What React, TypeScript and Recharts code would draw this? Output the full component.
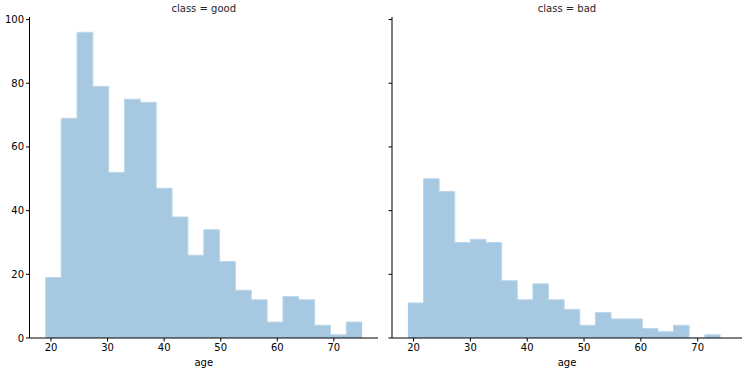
import React from 'react';
import { AreaChart, Area, XAxis, YAxis } from 'recharts';

// histogram bin edges (age) and counts per facet
const GOOD_EDGES = [19, 21.8, 24.6, 27.4, 30.2, 33, 35.8, 38.6, 41.4, 44.2, 47, 49.8, 52.6, 55.4, 58.2, 61, 63.8, 66.6, 69.4, 72.2, 75];
const GOOD_COUNTS = [19, 69, 96, 79, 52, 75, 74, 47, 38, 26, 34, 24, 15, 12, 5, 13, 12, 4, 1, 5];

const BAD_EDGES = [19, 21.75, 24.5, 27.25, 30, 32.75, 35.5, 38.25, 41, 43.75, 46.5, 49.25, 52, 54.75, 57.5, 60.25, 63, 65.75, 68.5, 71.25, 74];
const BAD_COUNTS = [11, 50, 46, 30, 31, 30, 18, 12, 17, 12, 9, 4, 8, 6, 6, 3, 2, 4, 0, 1];

const X_TICKS = [20, 30, 40, 50, 60, 70];
const Y_TICKS = [0, 20, 40, 60, 80, 100];

const FONT = '"DejaVu Sans", sans-serif';
const FILL = '#a6c8e0';

const toSteps = (edges: number[], counts: number[]) => {
  const pts = counts.map((c, i) => ({ age: edges[i], count: c }));
  // closing point so the last bin has a right edge
  pts.push({ age: edges[edges.length - 1], count: counts[counts.length - 1] });
  return pts;
};

interface FacetProps {
  title: string;
  edges: number[];
  counts: number[];
  showYLabels: boolean;
  left: number;
  yWidth: number;
  rightMargin: number;
}

const Facet: React.FC<FacetProps> = ({ title, edges, counts, showYLabels, left, yWidth, rightMargin }) => {
  const data = toSteps(edges, counts);
  const width = 380;
  const plotLeft = yWidth;
  const plotRight = width - rightMargin;
  return (
    <div style={{ position: 'absolute', left, top: 0, width, height: 371 }}>
      <div
        style={{
          position: 'absolute',
          left: plotLeft,
          width: plotRight - plotLeft,
          top: 3,
          textAlign: 'center',
          fontFamily: FONT,
          fontSize: 10,
          lineHeight: '12px',
          color: '#262626',
        }}
      >
        {title}
      </div>
      <AreaChart width={width} height={371} data={data} margin={{ top: 17, right: rightMargin, bottom: 0, left: 0 }}>
        <XAxis
          dataKey="age"
          type="number"
          domain={[16.2, 77.8]}
          ticks={X_TICKS}
          allowDataOverflow
          height={33}
          tickSize={3.5}
          tickMargin={2}
          stroke="#000"
          tick={{ fill: '#000', fontSize: 10, fontFamily: FONT }}
          label={{ value: 'age', position: 'insideBottom', offset: 5, fill: '#000', fontSize: 10, fontFamily: FONT }}
        />
        <YAxis
          type="number"
          domain={[0, 100.8]}
          ticks={Y_TICKS}
          allowDataOverflow
          width={yWidth}
          tickSize={3.5}
          tickMargin={2}
          stroke="#000"
          tickFormatter={(v: number) => (showYLabels ? String(v) : '')}
          tick={{ fill: '#000', fontSize: 10, fontFamily: FONT }}
        />
        <Area
          type="stepAfter"
          dataKey="count"
          fill={FILL}
          fillOpacity={1}
          stroke="#bcd6ea"
          strokeWidth={1}
          isAnimationActive={false}
          dot={false}
          activeDot={false}
        />
      </AreaChart>
    </div>
  );
};

export default function App() {
  return (
    <div style={{ position: 'fixed', left: 0, top: 0, width: 750, height: 371, background: '#fff' }}>
      <Facet title="class = good" edges={GOOD_EDGES} counts={GOOD_COUNTS} showYLabels left={0} yWidth={29.5} rightMargin={2} />
      <Facet title="class = bad" edges={BAD_EDGES} counts={BAD_COUNTS} showYLabels={false} left={370} yWidth={22} rightMargin={8} />
    </div>
  );
}
